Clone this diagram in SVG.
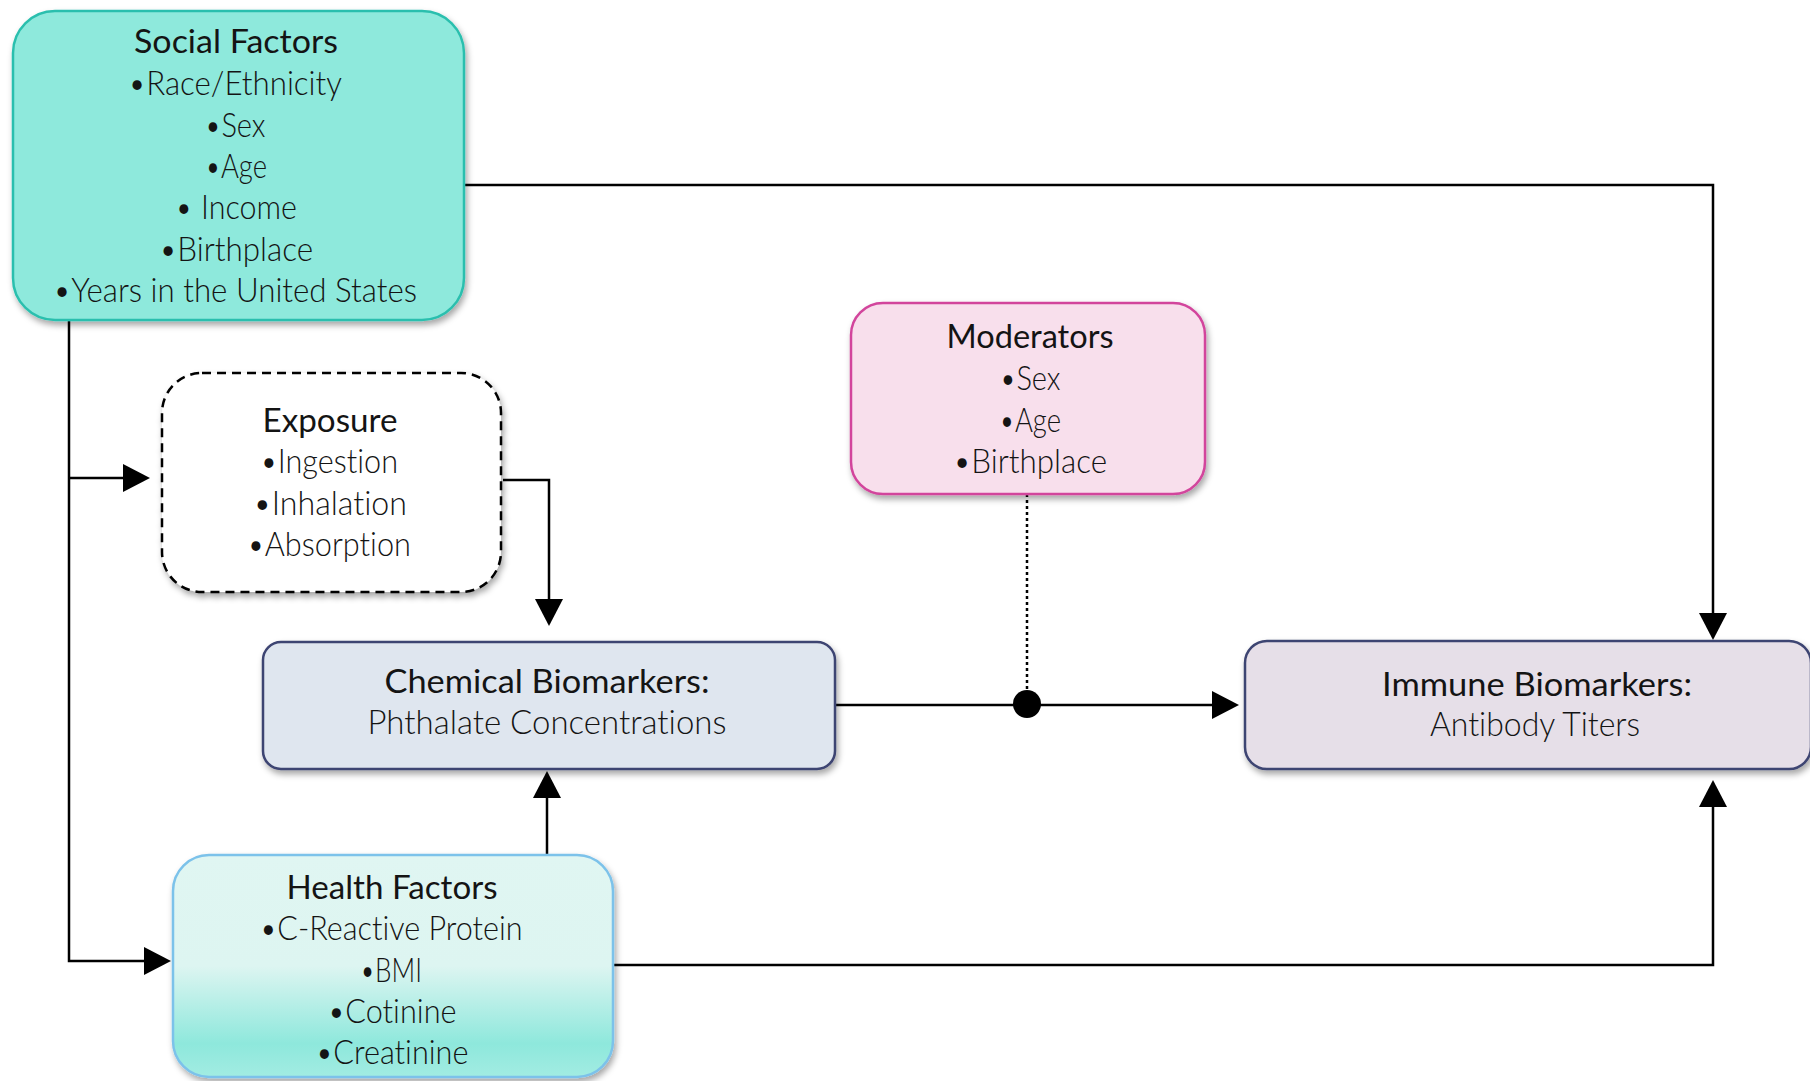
<svg xmlns="http://www.w3.org/2000/svg" width="1810" height="1081" viewBox="0 0 1810 1081">
  <defs>
    <style>
      text { font-family: "Lato", "Liberation Sans", sans-serif; fill: #141414; text-anchor: middle; font-size: 33px; font-variant-ligatures: none; }
      .title { font-weight: 400; }
      .item { font-weight: 300; }
      .box { stroke-width: 2.5; filter: url(#shadow); }
      .wire { fill: none; stroke: #000; stroke-width: 2.5; }
    </style>
    <filter id="shadow" x="-10%" y="-10%" width="125%" height="130%">
      <feDropShadow dx="2" dy="4" stdDeviation="3" flood-color="#000" flood-opacity="0.35"/>
    </filter>
    <linearGradient id="healthFill" x1="0" y1="0" x2="0" y2="1">
      <stop offset="0" stop-color="#E0F6F2"/>
      <stop offset="0.5" stop-color="#DDF5F1"/>
      <stop offset="0.85" stop-color="#8EE8DC"/>
      <stop offset="1" stop-color="#A2ECE2"/>
    </linearGradient>
    <marker id="arrow" markerUnits="userSpaceOnUse" markerWidth="28" markerHeight="28" refX="17" refY="14" orient="auto">
      <path d="M0,0 L27,14 L0,28 z" fill="#000"/>
    </marker>
  </defs>

  <!-- connectors -->
  <g id="connectors">
    <path class="wire" d="M464,185 H1713 V630" marker-end="url(#arrow)"/>
    <path class="wire" d="M69,320 V961 H161" marker-end="url(#arrow)"/>
    <path class="wire" d="M69,478 H140" marker-end="url(#arrow)"/>
    <path class="wire" d="M503,480 H549 V616" marker-end="url(#arrow)"/>
    <path class="wire" d="M547,855 V781" marker-end="url(#arrow)"/>
    <path class="wire" d="M835,705 H1229" marker-end="url(#arrow)"/>
    <path class="wire" d="M613,965 H1713 V790" marker-end="url(#arrow)"/>
    <path class="wire" d="M1027,494 V690" stroke-dasharray="3,3"/>
    <circle cx="1027" cy="704" r="14" fill="#000"/>
  </g>

  <!-- social factors -->
  <g id="social">
    <rect class="box" x="13" y="11" width="451" height="309" rx="42" fill="#8EE9DC" stroke="#2BBFAE"/>
    <text class="title" x="236" y="53" textLength="204" lengthAdjust="spacingAndGlyphs">Social Factors</text>
    <text class="item" x="235" y="95" textLength="214" lengthAdjust="spacingAndGlyphs">•Race/Ethnicity</text>
    <text class="item" x="235" y="137" textLength="61" lengthAdjust="spacingAndGlyphs">•Sex</text>
    <text class="item" x="236" y="178" textLength="62" lengthAdjust="spacingAndGlyphs">•Age</text>
    <text class="item" x="236" y="219" textLength="122" lengthAdjust="spacingAndGlyphs">• Income</text>
    <text class="item" x="236" y="261" textLength="154" lengthAdjust="spacingAndGlyphs">•Birthplace</text>
    <text class="item" x="235" y="302" textLength="364" lengthAdjust="spacingAndGlyphs">•Years in the United States</text>
  </g>

  <!-- exposure -->
  <g id="exposure">
    <rect class="box" x="162" y="373" width="339" height="219" rx="40" fill="#FFFFFF" stroke="#000" stroke-width="2" stroke-dasharray="9,6"/>
    <text class="title" x="330" y="432" textLength="135" lengthAdjust="spacingAndGlyphs">Exposure</text>
    <text class="item" x="329" y="473" textLength="138" lengthAdjust="spacingAndGlyphs">•Ingestion</text>
    <text class="item" x="330" y="515" textLength="154" lengthAdjust="spacingAndGlyphs">•Inhalation</text>
    <text class="item" x="329" y="556" textLength="164" lengthAdjust="spacingAndGlyphs">•Absorption</text>
  </g>

  <!-- moderators -->
  <g id="moderators">
    <rect class="box" x="851" y="303" width="354" height="191" rx="32" fill="#F8DFEC" stroke="#D2449C"/>
    <text class="title" x="1030" y="348" textLength="167" lengthAdjust="spacingAndGlyphs">Moderators</text>
    <text class="item" x="1030" y="390" textLength="61" lengthAdjust="spacingAndGlyphs">•Sex</text>
    <text class="item" x="1030" y="432" textLength="62" lengthAdjust="spacingAndGlyphs">•Age</text>
    <text class="item" x="1030" y="473" textLength="154" lengthAdjust="spacingAndGlyphs">•Birthplace</text>
  </g>

  <!-- chemical biomarkers -->
  <g id="chemical">
    <rect class="box" x="263" y="642" width="572" height="127" rx="18" fill="#DFE6EF" stroke="#3E4472"/>
    <text class="title" x="547" y="693" textLength="325" lengthAdjust="spacingAndGlyphs">Chemical Biomarkers:</text>
    <text class="item" x="547" y="734" textLength="359" lengthAdjust="spacingAndGlyphs">Phthalate Concentrations</text>
  </g>

  <!-- immune biomarkers -->
  <g id="immune">
    <rect class="box" x="1245" y="641" width="566" height="128" rx="22" fill="#E6DFE8" stroke="#3E4472"/>
    <text class="title" x="1537" y="696" textLength="310" lengthAdjust="spacingAndGlyphs">Immune Biomarkers:</text>
    <text class="item" x="1535" y="736" textLength="210" lengthAdjust="spacingAndGlyphs">Antibody Titers</text>
  </g>

  <!-- health factors -->
  <g id="health">
    <rect class="box" x="173" y="855" width="440" height="222" rx="36" fill="url(#healthFill)" stroke="#7CC2EA"/>
    <text class="title" x="392" y="899" textLength="211" lengthAdjust="spacingAndGlyphs">Health Factors</text>
    <text class="item" x="391" y="940" textLength="263" lengthAdjust="spacingAndGlyphs">•C-Reactive Protein</text>
    <text class="item" x="391" y="982" textLength="62" lengthAdjust="spacingAndGlyphs">•BMI</text>
    <text class="item" x="392" y="1023" textLength="129" lengthAdjust="spacingAndGlyphs">•Cotinine</text>
    <text class="item" x="392" y="1064" textLength="153" lengthAdjust="spacingAndGlyphs">•Creatinine</text>
  </g>
</svg>
